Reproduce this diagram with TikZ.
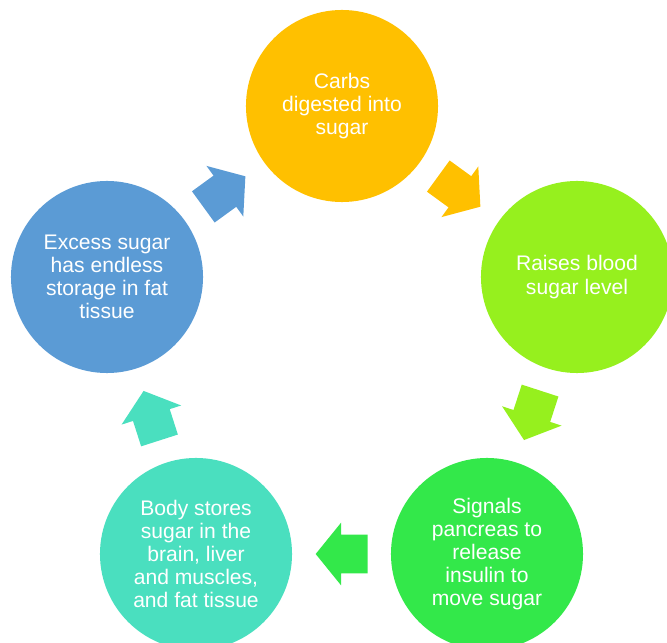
\documentclass[tikz,border=0pt]{standalone}
\usepackage{fontspec}
\setmainfont{Liberation Sans}
\usetikzlibrary{shapes.arrows, positioning, calc}
\definecolor{carbsorange}{HTML}{FFC000}
\definecolor{bloodlime}{HTML}{96F01E}
\definecolor{insulingreen}{HTML}{33E84A}
\definecolor{storeteal}{HTML}{4ADFBF}
\definecolor{fatblue}{HTML}{5B9BD5}
\tikzset{
  cyc step/.style={
    circle, minimum size=4.8cm, inner sep=0pt,
    text=white, align=center,
    font=\fontsize{15}{16.5}\selectfont
  },
  cyc arrow/.style={
    single arrow, draw=none, fill=#1,
    minimum height=1.3cm, inner xsep=0pt, inner ysep=0.475cm,
    single arrow head extend=0.3cm, single arrow tip angle=102,
    sloped, allow upside down, xshift=-0.2cm
  }
}

\begin{document}
\begin{tikzpicture}[x=0.025cm, y=-0.025cm]
  \useasboundingbox (0,0) rectangle (667,643);
  \node (carbs) [cyc step, fill=carbsorange] at (342,106) {Carbs\\digested into\\sugar};
  \node (blood) [cyc step, fill=bloodlime] at (577,277) {Raises blood\\sugar level};
  \node (insulin) [cyc step, fill=insulingreen] at (487,554) {Signals\\pancreas to\\release\\insulin to\\move sugar};
  \node (stores) [cyc step, fill=storeteal] at (196,554) {Body stores\\sugar in the\\brain, liver\\and muscles,\\and fat tissue};
  \node (excess) [cyc step, fill=fatblue] at (107,277) {Excess sugar\\has endless\\storage in fat\\tissue};

  \path (carbs) -- node[cyc arrow=carbsorange] {} (blood);
  \path (blood) -- node[cyc arrow=bloodlime] {} (insulin);
  \path (insulin) -- node[cyc arrow=insulingreen] {} (stores);
  \path (stores) -- node[cyc arrow=storeteal] {} (excess);
  \path (excess) -- node[cyc arrow=fatblue] {} (carbs);
\end{tikzpicture}
\end{document}
